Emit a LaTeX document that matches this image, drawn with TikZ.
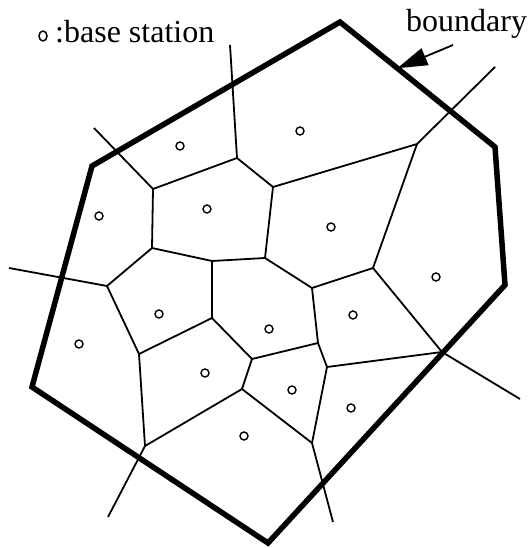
\documentclass[tikz,border=0pt]{standalone}
\usepackage{fontspec}
\setmainfont{Liberation Serif}
\usetikzlibrary{arrows.meta,calc,shapes.geometric}
\begin{document}
\begin{tikzpicture}[x=1pt,y=-1pt,
  cell/.style={line width=1.8pt,line join=round},
  bound/.style={line width=5.5pt,line join=miter},
  bs/.style={circle,draw,line width=1.4pt,inner sep=0pt,minimum size=8pt},
  lbl/.style={font=\fontsize{32}{36}\selectfont,inner sep=0pt}]
\useasboundingbox (0,0) rectangle (531,548);
% boundary corners
\coordinate (b1) at (92,166);
\coordinate (b2) at (340,22);
\coordinate (b3) at (495,147);
\coordinate (b4) at (505,285);
\coordinate (b5) at (268,543);
\coordinate (b6) at (32,387);
\draw[bound] (b1) -- (b2) -- (b3) -- (b4) -- (b5) -- (b6) -- cycle;
% Voronoi vertices
\coordinate (V) at (237,158);
\coordinate (A) at (153,189);
\coordinate (B) at (152,248);
\coordinate (C) at (212,261);
\coordinate (D) at (265,258);
\coordinate (E) at (273,187);
\coordinate (N) at (417,144);
\coordinate (K) at (373,268);
\coordinate (J) at (312,288);
\coordinate (L) at (318,343);
\coordinate (M) at (327,367);
\coordinate (S) at (442,352);
\coordinate (R) at (312,443);
\coordinate (P) at (242,389);
\coordinate (I) at (252,359);
\coordinate (H) at (212,318);
\coordinate (G) at (139,354);
\coordinate (F) at (107,286);
\coordinate (Q) at (145,446);
% free ends
\coordinate (o1) at (230,45);
\coordinate (o2) at (94,128);
\coordinate (o3) at (9,268);
\coordinate (o4) at (108,517);
\coordinate (o5) at (333,522);
\coordinate (o6) at (520,399);
\coordinate (o7) at (495,67);
\draw[cell] (o1) -- (V) -- (A) -- (o2);
\draw[cell] (A) -- (B) -- (C) -- (D) -- (E) -- (V);
\draw[cell] (B) -- (F) -- (o3);
\draw[cell] (E) -- (N) -- (o7);
\draw[cell] (N) -- (K) -- (J) -- (D);
\draw[cell] (K) -- (S) -- (o6);
\draw[cell] (J) -- (L) -- (M) -- (S);
\draw[cell] (M) -- (R) -- (o5);
\draw[cell] (L) -- (I) -- (H) -- (C);
\draw[cell] (H) -- (G) -- (F);
\draw[cell] (G) -- (Q) -- (o4);
\draw[cell] (I) -- (P) -- (R);
\draw[cell] (P) -- (Q);
% base stations
\node[bs] (s1) at (180,146) {};
\node[bs] (s2) at (300,131) {};
\node[bs] (s3) at (99,216) {};
\node[bs] (s4) at (207,209) {};
\node[bs] (s5) at (331,227) {};
\node[bs] (s6) at (436,277) {};
\node[bs] (s7) at (159,314) {};
\node[bs] (s8) at (269,329) {};
\node[bs] (s9) at (353,315) {};
\node[bs] (s10) at (79,344) {};
\node[bs] (s11) at (205,373) {};
\node[bs] (s12) at (292,390) {};
\node[bs] (s13) at (351,408) {};
\node[bs] (s14) at (244,436) {};
% legend
\node[ellipse,draw,line width=1.5pt,inner sep=0pt,minimum width=8pt,minimum height=10pt] (legmark) at (43,36) {};
\node[lbl,anchor=base west] (legtext) at (55,43) {:base station};
\node[lbl,anchor=base west] (boundlbl) at (406,32) {boundary};
\coordinate (arrtail) at (453,45);
\coordinate (arrtip) at ($(b2)!0.37!(b3)$);
\draw[line width=1.8pt,-{Triangle[length=30pt,width=18pt]}] (arrtail) -- (arrtip);
\end{tikzpicture}
\end{document}
